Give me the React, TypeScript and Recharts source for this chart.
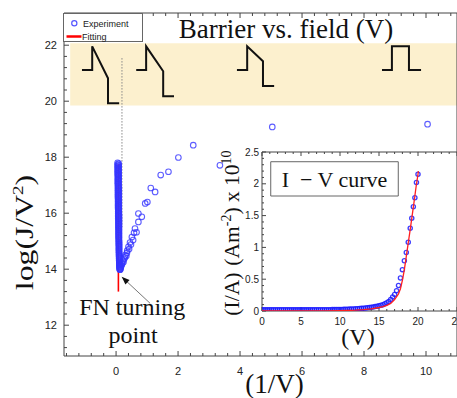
import React from 'react';
import {
  ComposedChart,
  Scatter,
  XAxis,
  YAxis,
  ReferenceArea,
  ReferenceLine,
  ReferenceDot,
  Legend,
} from 'recharts';

const SERIF = '"Liberation Serif", "Times New Roman", Times, serif';
const SANS = '"Liberation Sans", Arial, Helvetica, sans-serif';

// ---------- axes ----------
const mainXTicks = [0, 2, 4, 6, 8, 10];
const mainYTicks = [12, 14, 16, 18, 20, 22];
const insetXTicks = [0, 5, 10, 15, 20, 25];
const insetYTicks = [0, 0.5, 1, 1.5, 2, 2.5];
const MAIN_X: [number, number] = [-1.68, 11.0];
const MAIN_Y: [number, number] = [10.9, 23.15];
const INSET_X: [number, number] = [0, 25];
const INSET_Y: [number, number] = [0, 2.5];

// ---------- main plot data: x = 1/V, y = log(J/V^2) ----------
const experimentPoints: [number, number][] = [
  [0.05, 17.8], [0.05, 17.74], [0.05, 17.68], [0.05, 17.62], [0.05, 17.55], [0.05, 17.49],
  [0.05, 17.42], [0.055, 17.36], [0.055, 17.3], [0.055, 17.23], [0.055, 17.17], [0.055, 17.1],
  [0.055, 17.04], [0.06, 16.97], [0.06, 16.91], [0.06, 16.84], [0.06, 16.78], [0.06, 16.71],
  [0.06, 16.65], [0.06, 16.58], [0.065, 16.52], [0.065, 16.45], [0.065, 16.39], [0.065, 16.32],
  [0.065, 16.26], [0.065, 16.19], [0.07, 16.13], [0.07, 16.06], [0.07, 16.0], [0.07, 15.93],
  [0.07, 15.87], [0.07, 15.8], [0.075, 15.74], [0.075, 15.67], [0.075, 15.61], [0.075, 15.54],
  [0.075, 15.48], [0.08, 15.41], [0.08, 15.35], [0.08, 15.28], [0.08, 15.22], [0.08, 15.15],
  [0.085, 15.09], [0.085, 15.02], [0.085, 14.96], [0.085, 14.89], [0.09, 14.83], [0.09, 14.76],
  [0.09, 14.7], [0.09, 14.63], [0.095, 14.57], [0.095, 14.5], [0.1, 14.44], [0.1, 14.37],
  [0.1, 14.31], [0.105, 14.24], [0.105, 14.18], [0.11, 14.12], [0.11, 14.06], [0.115, 14.02],
  [0.085, 17.77], [0.085, 17.71], [0.085, 17.65], [0.085, 17.58], [0.085, 17.52], [0.085, 17.45],
  [0.085, 17.39], [0.085, 17.33], [0.085, 17.26], [0.085, 17.2], [0.085, 17.13], [0.085, 17.07],
  [0.085, 17.0], [0.09, 16.94], [0.09, 16.87], [0.09, 16.81], [0.09, 16.74], [0.09, 16.68],
  [0.09, 16.61], [0.09, 16.55], [0.09, 16.48], [0.09, 16.42], [0.09, 16.35], [0.09, 16.29],
  [0.09, 16.22], [0.09, 16.16], [0.09, 16.09], [0.09, 16.03], [0.095, 15.96], [0.095, 15.9],
  [0.095, 15.83], [0.095, 15.77], [0.095, 15.7], [0.095, 15.64], [0.095, 15.57], [0.095, 15.51],
  [0.095, 15.44], [0.095, 15.38], [0.095, 15.31], [0.095, 15.25], [0.095, 15.18], [0.095, 15.12],
  [0.095, 15.05], [0.1, 14.99], [0.1, 14.92], [0.1, 14.86], [0.1, 14.79], [0.1, 14.73],
  [0.1, 14.66], [0.1, 14.6], [0.1, 14.53], [0.1, 14.47], [0.1, 14.4], [0.11, 14.34],
  [0.11, 14.27], [0.11, 14.21], [0.11, 14.15], [0.11, 14.09],
  [0.12, 13.99], [0.13, 13.98], [0.14, 14.01], [0.15, 14.05], [0.16, 14.1], [0.17, 14.14],
  [0.19, 14.18], [0.2, 14.22], [0.22, 14.3], [0.24, 14.26], [0.26, 14.36], [0.28, 14.42],
  [0.3, 14.5], [0.33, 14.47], [0.35, 14.58], [0.36, 14.66], [0.4, 14.8], [0.42, 14.72],
  [0.45, 14.95], [0.48, 14.88], [0.51, 15.15], [0.55, 15.04], [0.58, 15.3], [0.61, 15.45],
  [0.66, 15.32], [0.72, 15.69], [0.72, 15.99], [0.83, 15.87], [0.94, 16.35],
  [1.01, 16.4], [1.12, 16.9], [1.26, 16.76], [1.44, 17.36], [1.69, 17.48],
  [2.01, 17.99], [2.49, 18.43], [3.35, 17.71], [5.04, 19.08], [10.05, 19.18],
];
const fittingPoints: [number, number][] = [[0.075, 17.75], [0.075, 13.2]];

// barrier sketches drawn in the shaded band
const barrierTriangleA: [number, number][] = [
  [-1.1, 21.11], [-0.77, 21.11], [-0.77, 21.96], [-0.26, 20.82], [-0.26, 19.93], [0.1, 19.93],
];
const barrierTriangleB: [number, number][] = [
  [0.65, 21.11], [0.97, 21.11], [0.97, 21.96], [1.52, 21.07], [1.52, 20.18], [1.87, 20.18],
];
const barrierTrapezoid: [number, number][] = [
  [3.9, 21.11], [4.23, 21.11], [4.23, 21.96], [4.74, 21.43], [4.74, 20.54], [5.1, 20.54],
];
const barrierSquare: [number, number][] = [
  [8.58, 21.11], [8.9, 21.11], [8.9, 21.96], [9.45, 21.96], [9.45, 21.11], [9.84, 21.11],
];

// ---------- inset data: V vs I/A (x 1e10) ----------
const ivExperiment: [number, number][] = [
  [0, 0.02], [0.25, 0.02], [0.5, 0.02], [0.75, 0.02], [1, 0.02], [1.25, 0.02], [1.5, 0.02],
  [1.75, 0.02], [2, 0.02], [2.25, 0.02], [2.5, 0.02], [2.75, 0.02], [3, 0.02], [3.25, 0.02],
  [3.5, 0.02], [3.75, 0.02], [4, 0.02], [4.25, 0.02], [4.5, 0.02], [4.75, 0.02], [5, 0.02],
  [5.25, 0.02], [5.5, 0.02], [5.75, 0.02], [6, 0.02], [6.25, 0.02], [6.5, 0.02], [6.75, 0.02],
  [7, 0.02], [7.25, 0.02], [7.5, 0.02], [7.75, 0.02], [8, 0.02], [8.25, 0.02], [8.5, 0.021],
  [8.75, 0.021], [9, 0.022], [9.25, 0.022], [9.5, 0.023], [9.75, 0.023], [10, 0.024],
  [10.25, 0.025], [10.5, 0.026], [10.75, 0.027], [11, 0.028], [11.25, 0.03], [11.5, 0.031],
  [11.75, 0.033], [12, 0.035], [12.25, 0.037], [12.5, 0.039], [12.75, 0.042], [13, 0.045],
  [13.25, 0.048], [13.5, 0.052], [13.75, 0.056], [14, 0.06], [14.25, 0.064], [14.5, 0.069],
  [14.75, 0.075], [15, 0.082], [15.25, 0.09], [15.5, 0.1], [15.75, 0.113], [16, 0.13],
  [16.25, 0.15], [16.5, 0.18], [16.75, 0.22], [17, 0.26], [17.25, 0.32], [17.5, 0.4],
  [17.75, 0.52], [18, 0.65], [18.25, 0.79], [18.5, 0.92], [18.75, 1.08], [19, 1.3],
  [19.2, 1.46], [19.4, 1.64], [19.6, 1.78], [19.8, 2.02], [20, 2.15],
];
const ivFitting: [number, number][] = [
  [0, 0], [2, 0], [4, 0], [6, 0.001], [8, 0.002], [10, 0.005], [11, 0.008], [12, 0.013],
  [13, 0.022], [14, 0.035], [15, 0.055], [15.5, 0.07], [16, 0.09], [16.5, 0.12], [17, 0.18],
  [17.5, 0.27], [17.75, 0.35], [18, 0.48], [18.25, 0.65], [18.5, 0.86], [18.75, 1.07],
  [19, 1.28], [19.25, 1.5], [19.5, 1.72], [19.75, 1.95], [20, 2.15], [20.05, 2.2],
];

// ---------- helpers ----------
const toPts = (arr: [number, number][]) => arr.map(([x, y]) => ({ x, y }));
const range = (start: number, step: number, n: number) =>
  Array.from({ length: n }, (_, i) => Math.round((start + step * i) * 1000) / 1000);

const mainXMinor = range(-1.6, 0.4, 32);
const mainYMinor = range(11.2, 0.4, 30);
const insetXMinor = range(0, 1, 26);
const insetYMinor = range(0, 0.1, 26);

const isMult = (v: number, m: number) => Math.abs(v / m - Math.round(v / m)) < 1e-6;

const ring = (r: number, color: string, opacity: number, sw: number) => (props: any) => {
  const { cx, cy } = props;
  if (cx == null || cy == null) return <g />;
  return <circle cx={cx} cy={cy} r={r} fill="none" stroke={color} strokeOpacity={opacity} strokeWidth={sw} />;
};
const noShape = () => <g />;

const tickStyle = { fontSize: 11, fill: '#222', fontFamily: SANS };
const insetTickStyle = { fontSize: 10, fill: '#222', fontFamily: SANS };

const MainXLabel = (props: any) => {
  const vb = props.viewBox || { x: 64, y: 356, width: 393, height: 42 };
  return (
    <text x={vb.x + vb.width / 2 + 14} y={vb.y + 37} textAnchor="middle" fontFamily={SERIF} fontSize={27} fill="#111">
      (1/V)
    </text>
  );
};
const MainYLabel = (props: any) => {
  const vb = props.viewBox || { x: 0, y: 13, width: 64, height: 343 };
  const x = 33;
  const y = vb.y + vb.height / 2 + 48;
  return (
    <text
      x={0}
      y={0}
      transform={`translate(${x}, ${y}) rotate(-90) scale(1.27, 1)`}
      textAnchor="middle"
      fontFamily={SERIF}
      fontSize={25}
      fill="#111"
    >
      log(J/V<tspan dy={-10} fontSize={15}>2</tspan>
      <tspan dy={10}>)</tspan>
    </text>
  );
};
const InsetXLabel = (props: any) => {
  const vb = props.viewBox || { x: 52, y: 171, width: 195, height: 39 };
  return (
    <text x={vb.x + vb.width / 2 - 1.5} y={vb.y + 34} textAnchor="middle" fontFamily={SERIF} fontSize={24} fill="#111">
      (V)
    </text>
  );
};
const InsetYLabel = (props: any) => {
  const vb = props.viewBox || { x: 0, y: 12, width: 52, height: 159 };
  const x = 29;
  const y = vb.y + vb.height / 2 + 1.5;
  return (
    <text x={x} y={y} transform={`rotate(-90, ${x}, ${y})`} textAnchor="middle" fontFamily={SERIF} fontSize={21.5} fill="#111">
      (I/A)
      <tspan dx={7}>(Am</tspan>
      <tspan dy={-8} fontSize={14}>-2</tspan>
      <tspan dy={8}>) x 10</tspan>
      <tspan dy={-8} fontSize={14}>10</tspan>
    </text>
  );
};

const LegendBox = () => (
  <svg width={80} height={29} style={{ display: 'block', overflow: 'visible' }}>
    <rect x={0.5} y={0.5} width={79} height={28} fill="#fff" stroke="#666" strokeWidth={1} />
    <circle cx={11.3} cy={10.3} r={2.6} fill="none" stroke="#5555ff" strokeWidth={1.2} />
    <text x={20} y={13.5} fontSize={9} fontFamily={SANS} fill="#222">Experiment</text>
    <line x1={3.5} x2={18.5} y1={23.5} y2={23.5} stroke="#ff0000" strokeWidth={2.5} />
    <text x={19} y={27} fontSize={9} fontFamily={SANS} fill="#222">Fitting</text>
  </svg>
);

const textShape = (text: string, size: number) => (p: any) => (
  <text x={p.cx} y={p.cy} textAnchor="middle" fontFamily={SERIF} fontSize={size} fill="#111">
    {text}
  </text>
);
const arrowHead = (p: any) => (
  <polygon points="0,0 8,-3 8,3" fill="#111" transform={`translate(${p.cx},${p.cy}) rotate(43)`} />
);

export default function App() {
  const tickColor = '#444';
  return (
    <div style={{ position: 'absolute', left: 0, top: 0, width: 457, height: 398, background: '#fff' }}>
      <div style={{ position: 'absolute', left: 0, top: 0 }}>
        <ComposedChart width={457} height={398} margin={{ top: 13, right: 0, bottom: 0, left: 0 }}>
          <XAxis
            type="number"
            dataKey="x"
            domain={MAIN_X}
            allowDataOverflow
            ticks={mainXTicks}
            interval={0}
            tickLine={false}
            axisLine={false}
            tickSize={0}
            tickMargin={11}
            height={42}
            tick={tickStyle}
            label={MainXLabel}
          />
          <YAxis
            type="number"
            dataKey="y"
            domain={MAIN_Y}
            allowDataOverflow
            ticks={mainYTicks}
            interval={0}
            tickLine={false}
            axisLine={false}
            tickSize={0}
            tickMargin={7}
            width={64}
            tick={tickStyle}
            label={MainYLabel}
          />
          <ReferenceArea x1={-1.48} x2={11} y1={19.85} y2={22.07} fill="#FCF0CE" fillOpacity={1} stroke="none" ifOverflow="visible" />
          <Legend
            layout="vertical"
            align="center"
            verticalAlign="middle"
            wrapperStyle={{ left: 63, top: 13, width: 80, height: 29 }}
            content={() => <LegendBox />}
          />
          <ReferenceLine
            segment={[{ x: 0.19, y: 21.54 }, { x: 0.19, y: 15.5 }]}
            stroke="#888"
            strokeDasharray="1.5 1.5"
            strokeWidth={1}
            ifOverflow="visible"
          />
          {[barrierTriangleA, barrierTriangleB, barrierTrapezoid, barrierSquare].map((b, i) => (
            <Scatter
              key={'barrier' + i}
              data={toPts(b)}
              line={{ stroke: '#111', strokeWidth: 2 }}
              lineType="joint"
              shape={noShape}
              legendType="none"
              isAnimationActive={false}
            />
          ))}
          <Scatter
            name="Fitting"
            data={toPts(fittingPoints)}
            line={{ stroke: '#ff0000', strokeWidth: 1.6 }}
            lineType="joint"
            shape={noShape}
            isAnimationActive={false}
          />
          <Scatter
            name="Experiment"
            data={toPts(experimentPoints)}
            shape={ring(2.8, '#3535ff', 0.8, 1.1)}
            isAnimationActive={false}
          />
          <ReferenceLine
            segment={[{ x: 1.1, y: 12.78 }, { x: 0.22, y: 13.69 }]}
            stroke="#777"
            strokeWidth={1}
            ifOverflow="visible"
          />
          <ReferenceDot x={0.18} y={13.73} r={1} ifOverflow="visible" shape={arrowHead} />
          <ReferenceDot x={0.52} y={12.36} r={1} ifOverflow="visible" shape={textShape('FN turning', 24)} />
          <ReferenceDot x={0.55} y={11.36} r={1} ifOverflow="visible" shape={textShape('point', 24)} />
          <ReferenceDot x={5.48} y={22.26} r={1} ifOverflow="visible" shape={textShape('Barrier vs. field (V)', 27)} />
          {mainXMinor.map((t) => {
            const len = (isMult(t, 2) ? 5 : 3) / 28;
            return [
              <ReferenceLine key={'bx' + t} segment={[{ x: t, y: MAIN_Y[0] }, { x: t, y: MAIN_Y[0] + len }]} stroke={tickColor} ifOverflow="visible" />,
              <ReferenceLine key={'tx' + t} segment={[{ x: t, y: MAIN_Y[1] }, { x: t, y: MAIN_Y[1] - len }]} stroke={tickColor} ifOverflow="visible" />,
            ];
          })}
          {mainYMinor.map((t) => {
            const len = (isMult(t, 2) ? 5 : 3) / 31;
            return (
              <ReferenceLine key={'ly' + t} segment={[{ x: MAIN_X[0], y: t }, { x: MAIN_X[0] + len, y: t }]} stroke={tickColor} ifOverflow="visible" />
            );
          })}
          <ReferenceArea x1={MAIN_X[0]} x2={MAIN_X[1]} y1={MAIN_Y[0]} y2={MAIN_Y[1]} fill="none" stroke="#444" strokeWidth={1} ifOverflow="visible" />
        </ComposedChart>
      </div>

      <div style={{ position: 'absolute', left: 210, top: 140 }}>
        <ComposedChart width={247} height={210} margin={{ top: 12, right: 0, bottom: 0, left: 0 }}>
          <XAxis
            type="number"
            dataKey="x"
            domain={INSET_X}
            allowDataOverflow
            ticks={insetXTicks}
            interval={0}
            tickLine={false}
            axisLine={false}
            tickSize={0}
            tickMargin={7}
            height={39}
            tick={insetTickStyle}
            label={InsetXLabel}
          />
          <YAxis
            type="number"
            dataKey="y"
            domain={INSET_Y}
            allowDataOverflow
            ticks={insetYTicks}
            interval={0}
            tickLine={false}
            axisLine={false}
            tickSize={0}
            tickMargin={3}
            width={52}
            tick={insetTickStyle}
            label={InsetYLabel}
          />
          <ReferenceArea x1={INSET_X[0]} x2={INSET_X[1]} y1={INSET_Y[0]} y2={INSET_Y[1]} fill="#fff" fillOpacity={1} stroke="#444" strokeWidth={1} ifOverflow="visible" />
          <ReferenceArea
            x1={1.12}
            x2={17.47}
            y1={1.808}
            y2={2.347}
            fill="#fff"
            fillOpacity={1}
            stroke="#666"
            strokeWidth={1}
            ifOverflow="visible"
            label={{ value: 'I\u2002\u2212 V curve', position: 'center', fontFamily: SERIF, fontSize: 22, fill: '#111' }}
          />
          {insetXMinor.map((t) => {
            const len = (isMult(t, 5) ? 4 : 2) / 63.6;
            return [
              <ReferenceLine key={'ibx' + t} segment={[{ x: t, y: INSET_Y[0] }, { x: t, y: INSET_Y[0] + len }]} stroke={tickColor} ifOverflow="visible" />,
              <ReferenceLine key={'itx' + t} segment={[{ x: t, y: INSET_Y[1] }, { x: t, y: INSET_Y[1] - len }]} stroke={tickColor} ifOverflow="visible" />,
            ];
          })}
          {insetYMinor.map((t) => {
            const len = (isMult(t, 0.5) ? 4 : 2) / 7.8;
            return (
              <ReferenceLine key={'ily' + t} segment={[{ x: INSET_X[0], y: t }, { x: INSET_X[0] + len, y: t }]} stroke={tickColor} ifOverflow="visible" />
            );
          })}
          <Scatter
            name="I-V experiment"
            data={toPts(ivExperiment)}
            shape={ring(2.1, '#1a1aff', 0.85, 1.3)}
            isAnimationActive={false}
          />
          <Scatter
            name="I-V fitting"
            data={toPts(ivFitting)}
            line={{ stroke: '#ff2020', strokeWidth: 1.3 }}
            lineType="joint"
            shape={noShape}
            isAnimationActive={false}
          />
        </ComposedChart>
      </div>
    </div>
  );
}
